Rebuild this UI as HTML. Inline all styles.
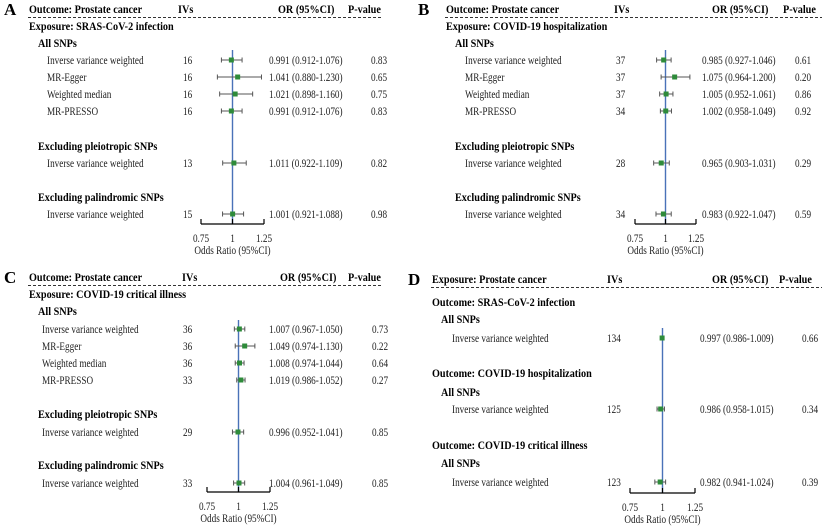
<!DOCTYPE html>
<html><head><meta charset="utf-8"><style>
body{margin:0;background:#fff}
svg{display:block;font-family:"Liberation Serif",serif}
.h{font-weight:bold;font-size:12px}
.t{font-size:11.5px;fill:#222}
.L{font-weight:bold;font-size:17px}
</style></head><body>
<svg id="c" width="824" height="529" viewBox="0 0 824 529"></svg>
<script>
// Panel A data
const aIVs=[16,16,16,16,13,15];
const aOR=[0.991,1.041,1.021,0.991,1.011,1.001];
const aLo=[0.912,0.880,0.898,0.912,0.922,0.921];
const aHi=[1.076,1.230,1.160,1.076,1.109,1.088];
const aP=["0.83","0.65","0.75","0.83","0.82","0.98"];
// Panel B data
const bIVs=[37,37,37,34,28,34];
const bOR=[0.985,1.075,1.005,1.002,0.965,0.983];
const bLo=[0.927,0.964,0.952,0.958,0.903,0.922];
const bHi=[1.046,1.200,1.061,1.049,1.031,1.047];
const bP=["0.61","0.20","0.86","0.92","0.29","0.59"];
// Panel C data
const cIVs=[36,36,36,33,29,33];
const cOR=[1.007,1.049,1.008,1.019,0.996,1.004];
const cLo=[0.967,0.974,0.974,0.986,0.952,0.961];
const cHi=[1.050,1.130,1.044,1.052,1.041,1.049];
const cP=["0.73","0.22","0.64","0.27","0.85","0.85"];
// Panel D data
const dIVs=[134,125,123];
const dOR=[0.997,0.986,0.982];
const dLo=[0.986,0.958,0.941];
const dHi=[1.009,1.015,1.024];
const dP=["0.66","0.34","0.39"];
const tickVals=[0.75,1,1.25];
const tickLabels=["0.75","1","1.25"];
const methods=["Inverse variance weighted","MR-Egger","Weighted median","MR-PRESSO","Inverse variance weighted","Inverse variance weighted"];

const svg=document.getElementById('c');
const NS="http://www.w3.org/2000/svg";
function mk(tag,attrs,txt){const e=document.createElementNS(NS,tag);for(const k in attrs)e.setAttribute(k,attrs[k]);if(txt!==undefined)e.textContent=txt;svg.appendChild(e);
  if(tag==='text'&&attrs['class']!=='L'){const sq=attrs['class']==='h'?0.85:0.8;const w=e.getComputedTextLength();if(w>0){e.setAttribute('textLength',(w*sq).toFixed(1));e.setAttribute('lengthAdjust','spacingAndGlyphs');}}
  return e;}
function f3(v){return v.toFixed(3);}

function panel(cfg,ivs,or,lo,hi,p,labels,headers){
  const x=v=>cfg.x0+(v-0.75)/(0.5)*(cfg.x1-cfg.x0);
  const oy=cfg.oy;
  let e=mk('text',{x:cfg.lx,y:oy+15,class:'L'},cfg.letter);
  
  
  const hd=[[cfg.hx,headers[0]],[cfg.hiv,'IVs'],[cfg.hor,'OR (95%CI)'],[cfg.hp,'P-value']];
  hd.forEach((h,i)=>{e=mk('text',{x:h[0],y:oy+13,class:'h'},h[1]);
    
    });
  e=mk('line',{x1:cfg.hx-1,x2:cfg.dx2,y1:oy+17.5,y2:oy+17.5,stroke:'#333','stroke-width':1,'stroke-dasharray':'3,2'});
  
  
  cfg.secs.forEach(s=>{e=mk('text',{x:s[0],y:oy+s[1]+4,class:'h'},s[2]);
    
    });
  e=mk('line',{x1:x(1),x2:x(1),y1:oy+cfg.refTop,y2:oy+cfg.axisY,stroke:'#4a72b8','stroke-width':1.4});
  
  
  or.forEach((v,i)=>{
    const y=oy+cfg.rows[i];
    e=mk('text',{x:cfg.rl,y:y+4,class:'t'},labels[i]);
    
    
    e=mk('text',{x:cfg.riv,y:y+4,class:'t'},String(ivs[i]));
    
    
    e=mk('text',{x:cfg.ror,y:y+4,class:'t'},f3(v)+' ('+f3(lo[i])+'-'+f3(hi[i])+')');
    
    
    e=mk('text',{x:cfg.rp,y:y+4,class:'t'},p[i]);
    
    
    e=mk('line',{x1:x(lo[i]),x2:x(hi[i]),y1:y,y2:y,stroke:'#555','stroke-width':1});
    
    
    [lo[i],hi[i]].forEach(c=>{e=mk('line',{x1:x(c),x2:x(c),y1:y-2.5,y2:y+2.5,stroke:'#555','stroke-width':1});
      
      });
    e=mk('rect',{x:x(v)-2.5,y:y-2.5,width:5,height:5,fill:'#2e8b3a'});
    
    
  });
  const ay=oy+cfg.axisY;
  e=mk('line',{x1:x(0.75),x2:x(1.25),y1:ay,y2:ay,stroke:'#000','stroke-width':1.2});
  
  
  tickVals.forEach((t,i)=>{
    e=mk('line',{x1:x(t),x2:x(t),y1:ay-5,y2:ay,stroke:'#000','stroke-width':1.2});
    
    
    e=mk('text',{x:x(t),y:ay+18,class:'t','text-anchor':'middle'},tickLabels[i]);
    
    
  });
  e=mk('text',{x:x(1),y:ay+30,class:'t','text-anchor':'middle'},'Odds Ratio (95%CI)');
  
  
}
const rows6=[60,77,94,111,163,214];
function secs6(sx,ex,expo){return [[ex,26,expo],[sx,43,'All SNPs'],[sx,146,'Excluding pleiotropic SNPs'],[sx,197,'Excluding palindromic SNPs']];}
panel({letter:'A',oy:0,lx:4,hx:29,hiv:178,hor:278,hp:348,dx2:383,rl:47,riv:183,ror:269,rp:371,x0:201,x1:264,
  rows:rows6,refTop:50,axisY:224,secs:secs6(38,29,'Exposure: SRAS-CoV-2 infection')},
  aIVs,aOR,aLo,aHi,aP,methods,['Outcome: Prostate cancer']);
panel({letter:'B',oy:0,lx:418,hx:446,hiv:614,hor:712,hp:783,dx2:822,rl:465,riv:616,ror:702,rp:795,x0:635,x1:696,
  rows:rows6,refTop:50,axisY:224,secs:secs6(455,446,'Exposure: COVID-19 hospitalization')},
  bIVs,bOR,bLo,bHi,bP,methods,['Outcome: Prostate cancer']);
panel({letter:'C',oy:268,lx:4,hx:29,hiv:182,hor:280,hp:348,dx2:383,rl:42,riv:183,ror:269,rp:372,x0:207,x1:270,
  rows:rows6.map(r=>r+1),refTop:52,axisY:224,secs:secs6(38,29,'Exposure: COVID-19 critical illness')},
  cIVs,cOR,cLo,cHi,cP,methods,['Outcome: Prostate cancer']);
panel({letter:'D',oy:270,lx:408,hx:432,hiv:607,hor:712,hp:779,dx2:822,rl:452,riv:607,ror:700,rp:802,x0:630,x1:695,
  rows:[68,139,212],refTop:58,axisY:223,
  secs:[[432,32,'Outcome: SRAS-CoV-2 infection'],[441,49,'All SNPs'],[432,103,'Outcome: COVID-19 hospitalization'],[441,122,'All SNPs'],[432,175,'Outcome: COVID-19 critical illness'],[441,193,'All SNPs']]},
  dIVs,dOR,dLo,dHi,dP,["Inverse variance weighted","Inverse variance weighted","Inverse variance weighted"],['Exposure: Prostate cancer']);
</script>
</body></html>
